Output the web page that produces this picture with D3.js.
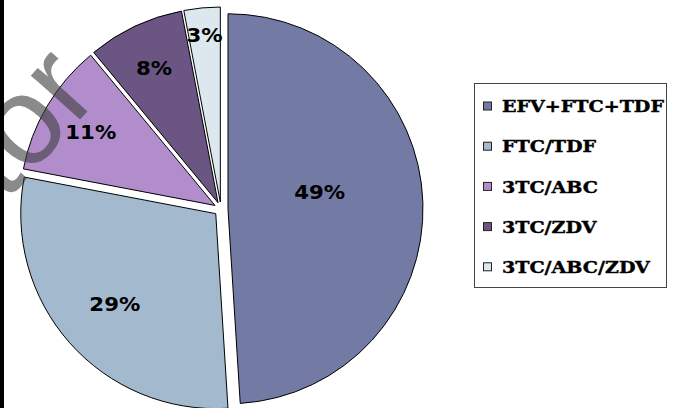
<!DOCTYPE html>
<html>
<head>
<meta charset="utf-8">
<script src="https://cdn.jsdelivr.net/npm/d3@7/dist/d3.min.js"></script>
<style>
  html, body { margin: 0; padding: 0; background: #fff; }
  svg { display: block; }
</style>
</head>
<body>
<svg id="chart" width="673" height="408"></svg>
<script>
// Regimen shares (%)
const categories = ["EFV+FTC+TDF", "FTC/TDF", "3TC/ABC", "3TC/ZDV", "3TC/ABC/ZDV"];
const shares = [49, 29, 11, 8, 3];
const sliceColors = ["#737ba5", "#a3b9ce", "#b18ecb", "#6a5583", "#dde7ee"];

// Label placement along each slice (fraction of radius) and small vertical nudges
const labelRadiusFrac = [0.47, 0.69, 0.74, 0.77, 0.86];
const labelNudgeY = [-14, 2, 0, 1, 0];

const W = 673, H = 408;
const cx = 221, cy = 209, R = 195, explode = 7;

const svg = d3.select("#chart");
svg.append("rect").attr("width", W).attr("height", H).attr("fill", "#fff");

const data = categories.map((c, i) => ({ name: c, value: shares[i], color: sliceColors[i], i }));

const pie = d3.pie().sort(null).value(d => d.value).startAngle(0).endAngle(2 * Math.PI);
const arcs = pie(data);
const arc = d3.arc().innerRadius(0).outerRadius(R);

const offsetOf = a => {
  const mid = (a.startAngle + a.endAngle) / 2;
  return [Math.sin(mid) * explode, -Math.cos(mid) * explode];
};

const pieG = svg.append("g").attr("transform", `translate(${cx},${cy})`);

pieG.selectAll("path.slice")
  .data(arcs)
  .join("path")
  .attr("class", "slice")
  .attr("transform", d => `translate(${offsetOf(d)})`)
  .attr("d", arc)
  .attr("fill", d => d.data.color)
  .attr("stroke", "#000")
  .attr("stroke-width", 1)
  .attr("stroke-linejoin", "miter");

// Watermark text across the left side
svg.append("text")
  .attr("transform", "translate(102,95) rotate(-48)")
  .attr("text-anchor", "end")
  .attr("font-family", "Liberation Sans, Arial, sans-serif")
  .attr("font-size", 125)
  .attr("fill", "rgba(60,60,60,0.6)")
  .text("tor");

// Percentage labels
pieG.selectAll("text.pct")
  .data(arcs)
  .join("text")
  .attr("class", "pct")
  .attr("transform", d => {
    const mid = (d.startAngle + d.endAngle) / 2;
    const [ox, oy] = offsetOf(d);
    const k = labelRadiusFrac[d.data.i] * R;
    return `translate(${ox + Math.sin(mid) * k},${oy - Math.cos(mid) * k + labelNudgeY[d.data.i]}) scale(1.12,1)`;
  })
  .attr("text-anchor", "middle")
  .attr("dy", "0.36em")
  .attr("font-family", "DejaVu Sans, Verdana, sans-serif")
  .attr("font-weight", "bold")
  .attr("font-size", 19)
  .attr("fill", "#000")
  .text(d => d.data.value + "%");

// Left edge bar
svg.append("rect").attr("x", 0).attr("y", 0).attr("width", 4).attr("height", H).attr("fill", "#000");

// Legend
const legX = 474, legY = 83, legW = 192, legH = 204, rowStep = 40.2;
const leg = svg.append("g");
leg.append("rect")
  .attr("x", legX + 0.5).attr("y", legY + 0.5)
  .attr("width", legW).attr("height", legH)
  .attr("fill", "#fff").attr("stroke", "#444").attr("stroke-width", 1);

const rows = leg.selectAll("g.row")
  .data(data)
  .join("g")
  .attr("class", "row")
  .attr("transform", (d, i) => `translate(${legX}, ${legY + 23.5 + i * rowStep})`);

rows.append("rect")
  .attr("x", 9.5).attr("y", -4.5)
  .attr("width", 8).attr("height", 8)
  .attr("fill", d => d.color)
  .attr("stroke", "#222").attr("stroke-width", 1);

const texts = rows.append("text")
  .attr("x", 0).attr("y", 0)
  .attr("dy", "0.36em")
  .attr("font-family", "DejaVu Serif, serif")
  .attr("font-weight", "bold")
  .attr("font-size", 16)
  .attr("fill", "#000")
  .attr("stroke", "#000")
  .attr("stroke-width", 0.4)
  .text(d => d.name);

// Stretch legend text horizontally so the longest entry spans the box
const widest = d3.max(texts.nodes(), n => n.getComputedTextLength());
const stretch = 162 / widest;
texts.attr("transform", `translate(28,0) scale(${stretch},1)`);
</script>
</body>
</html>
